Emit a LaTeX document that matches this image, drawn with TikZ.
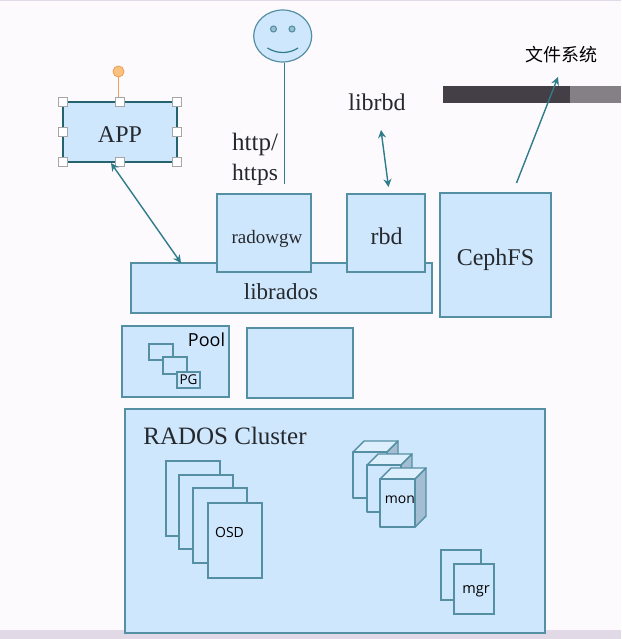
\documentclass[tikz,border=0pt]{standalone}
\usepackage{fontspec}
\setmainfont{Liberation Serif}
\newfontfamily\uisans{Open Sans}
\newfontfamily\cjkfont{Noto Sans CJK SC}
\usetikzlibrary{arrows.meta,shapes.geometric}
\definecolor{paper}{HTML}{FDFAFD}
\definecolor{strip}{HTML}{E2D9E6}
\definecolor{boxfill}{HTML}{CFE7FD}
\definecolor{boxline}{HTML}{558FA3}
\definecolor{conn}{HTML}{2F7C8C}
\definecolor{inktext}{HTML}{25292E}
\definecolor{topface}{HTML}{DDEEFD}
\definecolor{sideface}{HTML}{A3BED3}
\definecolor{bardark}{HTML}{443E47}
\definecolor{barlight}{HTML}{858085}
\definecolor{rotline}{HTML}{EFA05C}
\definecolor{rotfill}{HTML}{FBC27F}
\newcommand{\fs}[1]{\fontsize{#1}{#1}\selectfont}
\newcommand{\drop}[2]{\raisebox{-#1pt}[0pt][0pt]{#2}}
\tikzset{
  bx/.style={draw=boxline,fill=boxfill,line width=1.3pt,anchor=north west,inner sep=0pt,outer sep=0pt,text=inktext},
  handle/.style={draw=gray!70,fill=white,line width=0.9pt,minimum size=9pt,inner sep=0pt},
  link/.style={draw=conn,line width=1.4pt},
  tipboth/.style={{Stealth[width=8pt,length=8pt]}-{Stealth[width=8pt,length=8pt]}},
  tipend/.style={-{Stealth[width=8pt,length=8pt]}},
  lbl/.style={inner sep=0pt,text=inktext},
  ui/.style={inner sep=0pt,text=black,font=\uisans\fs{14}},
  cubeface/.style={draw=boxline,line width=1.4pt,line join=round}
}
\newcommand{\cube}[4]{% x0 y0 x1 y1 of the front face
  \filldraw[fill=topface,cubeface] (#1,#2) -- ++(11,-11) -- (#3+11,#2-11) -- (#3,#2) -- cycle;
  \filldraw[fill=sideface,cubeface] (#3,#2) -- (#3+11,#2-11) -- (#3+11,#4-11) -- (#3,#4) -- cycle;
  \filldraw[fill=boxfill,cubeface] (#1,#2) rectangle (#3,#4);
}
\begin{document}
\begin{tikzpicture}[x=1pt,y=-1pt]
\useasboundingbox (0,0) rectangle (621,639);
\fill[paper] (0,0) rectangle (621,639);
\fill[strip] (0,0) rectangle (621,1);
\fill[strip] (0,630) rectangle (621,639);

% dark bar
\fill[bardark] (443,86) rectangle (570,103);
\fill[barlight] (570,86) rectangle (621,103);

% RADOS cluster
\node[bx,minimum width=420pt,minimum height=224pt] (cluster) at (125,409) {};
\node[lbl,font=\fs{25}] (radostext) at (225,436) {RADOS Cluster};

% upper boxes
\node[bx,minimum width=301pt,minimum height=50pt] (librados) at (131,263) {};
\node[lbl,font=\fs{23}] (libradostext) at (281,292) {librados};
\node[bx,minimum width=94pt,minimum height=78pt,font=\fs{19}] (radowgw) at (217,194) {\kern6pt\drop{10}{radowgw}};
\node[bx,minimum width=78pt,minimum height=78pt,font=\fs{24}] (rbd) at (347,194) {\kern1pt\drop{11}{rbd}};
\node[bx,minimum width=111pt,minimum height=124pt,font=\fs{24}] (cephfs) at (440,193) {\drop{10}{CephFS}};

% pools
\node[bx,minimum width=107pt,minimum height=71pt] (pool) at (122,326) {};
\node[bx,minimum width=106pt,minimum height=70pt] (pool2) at (247,328) {};
\node[ui,font=\uisans\fs{18}] (pooltext) at (206.5,340) {Pool};
\node[bx,minimum width=24pt,minimum height=16pt] (pga) at (149,344) {};
\node[bx,minimum width=24pt,minimum height=17pt] (pgb) at (163,357) {};
\node[bx,minimum width=23pt,minimum height=16pt,text=black,font=\uisans\fs{13.5}] (pgc) at (177,372) {PG};

% OSD pages
\node[bx,minimum width=54pt,minimum height=75pt] (osda) at (166,461) {};
\node[bx,minimum width=54pt,minimum height=74pt] (osdb) at (179,475) {};
\node[bx,minimum width=54pt,minimum height=75pt] (osdc) at (193,488) {};
\node[bx,minimum width=54pt,minimum height=75pt] (osdd) at (208,503) {};
\node[ui] (osdtext) at (229.5,532) {OSD};

% mon cubes
\cube{353}{452}{387}{498}
\cube{367}{465}{401}{512}
\cube{380}{479}{415}{527}
\node[ui] (montext) at (400,499.5) {mon};

% mgr pages
\node[bx,minimum width=40pt,minimum height=50pt] (mgra) at (441,550) {};
\node[bx,minimum width=40pt,minimum height=50pt] (mgrb) at (454,564) {};
\node[ui,font=\uisans\fs{14.5}] (mgrtext) at (476,591) {mgr};

% APP with selection handles
\node[bx,draw=conn!80!black,line width=1.8pt,minimum width=114pt,minimum height=60pt,font=\fs{24}] (app) at (63,102) {\drop{11}{APP}};
\coordinate (rot) at (118.5,71.5);
\draw[draw=rotline,line width=1.1pt] (app.north -| rot) -- (rot);
\node[circle,draw=rotline,fill=rotfill,line width=0.9pt,minimum size=11pt,inner sep=0pt] (rotdot) at (rot) {};
\foreach \a/\n in {north west/a,north/b,north east/c,west/d,east/e,south west/f,south/g,south east/h}
  \node[handle] (h\n) at (app.\a) {};

% smiley
\node[draw=boxline,fill=boxfill,line width=1.2pt,ellipse,minimum width=58pt,minimum height=52pt,inner sep=0pt] (face) at (282.7,36) {};
\node[draw=boxline,fill=boxfill!55!boxline,circle,line width=1.1pt,minimum size=6pt,inner sep=0pt] (eyea) at (273.5,29) {};
\node[draw=boxline,fill=boxfill!55!boxline,circle,line width=1.1pt,minimum size=6pt,inner sep=0pt] (eyeb) at (292,29) {};
\draw[draw=conn,line width=1.2pt] (267.5,48) .. controls (277,54) and (289,54) .. (298,48);

% labels
\node[lbl,font=\fs{25},anchor=base west] (httpa) at (232,151) {http/};
\node[lbl,font=\fs{23.5},anchor=base west] (httpb) at (232,180) {https};
\node[lbl,font=\fs{24}] (librbd) at (377,102) {librbd};
\node[inner sep=0pt,text=black,font=\cjkfont\fs{18}] (fstext) at (561,55) {文件系统};

% connectors
\coordinate (faceend) at (284.5,184);
\coordinate (appfoot) at (111,163);
\coordinate (radosin) at (181,263);
\coordinate (rbdtop) at (381,130);
\coordinate (rbdin) at (388.5,187);
\coordinate (cephtop) at (516.5,183);
\coordinate (fshead) at (558,77);
\draw[link] (face.south -| faceend) -- (faceend);
\draw[link,tipboth] (appfoot) -- (radosin);
\draw[link,tipboth] (rbdtop) -- (rbdin);
\draw[link,tipend] (cephtop) -- (fshead);
\end{tikzpicture}
\end{document}
